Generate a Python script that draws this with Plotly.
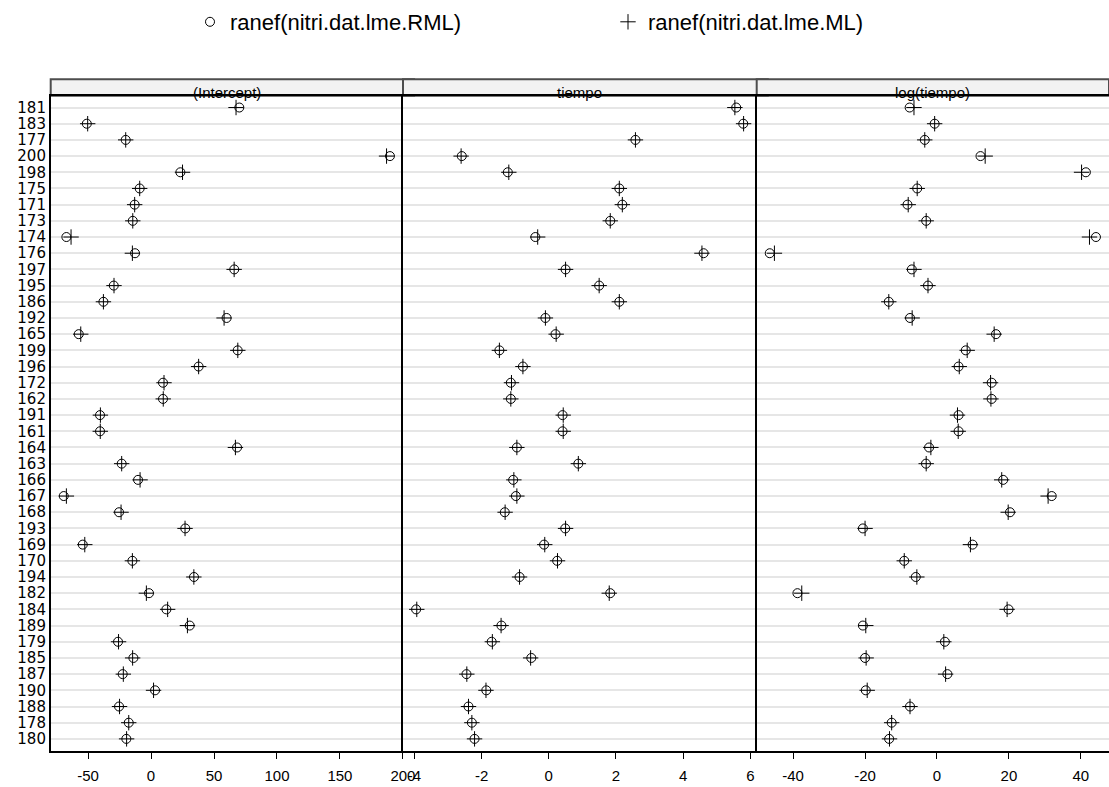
import plotly.graph_objects as go

# Grouping levels, listed top to bottom
groups = ["181", "183", "177", "200", "198", "175", "171", "173", "174", "176",
          "197", "195", "186", "192", "165", "199", "196", "172", "162", "191",
          "161", "164", "163", "166", "167", "168", "193", "169", "170", "194",
          "182", "184", "189", "179", "185", "187", "190", "188", "178", "180"]

# Random effects from the REML fit
intercept_rml = [70.1, -51.0, -20.1, 189.7, 23.3, -9.0, -13.0, -14.5, -67.2, -12.7,
                 66.1, -29.6, -37.8, 60.0, -57.4, 68.8, 37.8, 9.5, 9.5, -40.5,
                 -40.5, 68.3, -23.3, -10.3, -69.3, -25.4, 27.2, -54.2, -14.8, 34.1,
                 -1.6, 12.2, 30.7, -26.2, -14.0, -22.5, 3.2, -25.4, -17.7, -19.6]
tiempo_rml = [5.58, 5.79, 2.58, -2.59, -1.22, 2.10, 2.19, 1.83, -0.40, 4.61,
              0.50, 1.50, 2.10, -0.10, 0.20, -1.47, -0.77, -1.13, -1.13, 0.41,
              0.41, -0.95, 0.88, -1.06, -0.98, -1.31, 0.49, -0.14, 0.25, -0.87,
              1.83, -3.95, -1.41, -1.70, -0.52, -2.45, -1.86, -2.39, -2.29, -2.21]
logt_rml = [-7.6, -0.65, -3.4, 12.1, 41.4, -5.5, -8.2, -3.0, 44.2, -46.5,
            -7.0, -2.5, -13.4, -7.5, 16.4, 8.0, 6.0, 15.2, 15.2, 6.0,
            6.0, -2.2, -3.06, 18.4, 31.9, 20.3, -20.6, 9.9, -9.1, -5.9,
            -38.8, 19.9, -20.6, 2.2, -20.0, 2.9, -19.8, -7.5, -12.6, -13.3]

# Random effects from the ML fit
intercept_ml = [67.5, -50.3, -20.1, 187.0, 25.0, -9.0, -13.0, -14.5, -63.5, -14.8,
                66.0, -29.4, -37.8, 58.0, -55.8, 68.9, 37.8, 10.3, 9.7, -40.2,
                -40.3, 67.0, -23.3, -8.7, -67.2, -23.8, 27.0, -52.6, -14.8, 34.0,
                -3.7, 13.2, 28.9, -25.8, -14.6, -22.0, 2.0, -25.0, -17.7, -19.4]
tiempo_ml = [5.54, 5.80, 2.58, -2.61, -1.19, 2.10, 2.19, 1.83, -0.33, 4.56,
             0.50, 1.50, 2.10, -0.10, 0.22, -1.47, -0.77, -1.11, -1.13, 0.43,
             0.43, -0.95, 0.88, -1.04, -0.95, -1.30, 0.50, -0.12, 0.26, -0.87,
             1.80, -3.93, -1.42, -1.68, -0.54, -2.44, -1.87, -2.39, -2.29, -2.21]
logt_ml = [-6.4, -0.65, -3.4, 13.4, 40.2, -5.5, -8.0, -3.0, 42.4, -45.2,
           -6.4, -2.5, -13.4, -6.9, 15.9, 8.4, 6.2, 14.9, 15.0, 5.7,
           5.9, -1.7, -3.0, 18.0, 30.9, 19.8, -20.0, 9.3, -9.1, -5.6,
           -37.6, 19.5, -19.8, 1.9, -19.7, 2.4, -19.4, -7.5, -12.6, -13.2]

panel_titles = ["(Intercept)", "tiempo", "log(tiempo)"]
panel_ticks = [[-50, 0, 50, 100, 150, 200], [-4, -2, 0, 2, 4, 6], [-40, -20, 0, 20, 40]]
series_names = ["ranef(nitri.dat.lme.RML)", "ranef(nitri.dat.lme.ML)"]

W, H = 1109, 787
FONT = "Liberation Sans, Arial, sans-serif"

# panel geometry (pixels)
panel_px = [(50.7, 403.0), (403.0, 756.7), (756.7, 1109.0)]
plot_top, plot_bottom = 95.7, 750.7
strip_top = 79.3

def px_x(v):
    return v / W

def px_y(v):
    return (H - v) / H

def padded(a, b):
    lo = min(min(a), min(b))
    hi = max(max(a), max(b))
    span = hi - lo
    return [lo - 0.04 * span, hi + 0.04 * span]

rml = [intercept_rml, tiempo_rml, logt_rml]
ml = [intercept_ml, tiempo_ml, logt_ml]

fig = go.Figure()
for i in range(3):
    xa = "x" if i == 0 else f"x{i+1}"
    ya = "y" if i == 0 else f"y{i+1}"
    fig.add_trace(go.Scatter(
        x=rml[i], y=groups, mode="markers", xaxis=xa, yaxis=ya,
        name=series_names[0], showlegend=(i == 0), legendgroup="rml",
        marker=dict(symbol="circle-open", size=9, color="black",
                    line=dict(width=1, color="black"))))
    fig.add_trace(go.Scatter(
        x=ml[i], y=groups, mode="markers", xaxis=xa, yaxis=ya,
        name=series_names[1], showlegend=(i == 0), legendgroup="ml",
        marker=dict(symbol="cross-thin-open", size=11, color="black",
                    line=dict(width=1, color="black"))))

n = len(groups)
yrange = [n - 1 + 0.73, -0.73]
layout = dict(
    width=W, height=H, autosize=False,
    margin=dict(l=0, r=0, t=0, b=0, pad=0, autoexpand=False),
    paper_bgcolor="white", plot_bgcolor="white",
    font=dict(family=FONT, color="black"),
    showlegend=True,
    legend=dict(orientation="h", x=px_x(190), y=px_y(1), xanchor="left", yanchor="top",
                entrywidth=373, entrywidthmode="pixels",
                font=dict(family=FONT, size=22, color="black"),
                bgcolor="rgba(0,0,0,0)"),
)

shapes = []
annotations = []
for i in range(3):
    sx = "" if i == 0 else str(i + 1)
    x0, x1 = panel_px[i]
    layout[f"xaxis{sx}"] = dict(
        domain=[px_x(x0), min(1.0, px_x(x1))],
        range=padded(rml[i], ml[i]),
        anchor=f"y{sx}", automargin=False,
        tickmode="array", tickvals=panel_ticks[i],
        ticktext=[str(t) for t in panel_ticks[i]],
        ticks="outside", ticklen=7, tickwidth=1, tickcolor="black",
        ticklabelstandoff=4,
        tickfont=dict(family=FONT, size=15, color="black"),
        showgrid=False, zeroline=False,
        showline=True, linecolor="black", linewidth=1.5, mirror=True,
    )
    layout[f"yaxis{sx}"] = dict(
        domain=[px_y(plot_bottom), px_y(plot_top)],
        anchor=f"x{sx}", automargin=False,
        type="category", categoryorder="array", categoryarray=groups,
        tickmode="array", tickvals=groups, ticktext=groups,
        range=yrange,
        matches=None if i == 0 else "y",
        showticklabels=(i == 0), ticks="",
        tickfont=dict(family="DejaVu Sans, sans-serif", size=15, color="black"),
        showgrid=True, gridcolor="#e6e6e6", gridwidth=2,
        zeroline=False,
        showline=True, linecolor="black", linewidth=1.5, mirror=False,
    )
    # strip above each panel
    shapes.append(dict(type="rect", xref="paper", yref="paper",
                       x0=px_x(x0), x1=min(1.0, px_x(x1) + 0.01),
                       y0=px_y(plot_top), y1=px_y(strip_top),
                       fillcolor="#f2f2f2", line=dict(color="#4d4d4d", width=2),
                       layer="below"))
    annotations.append(dict(text=panel_titles[i], xref="paper", yref="paper",
                            x=px_x((x0 + min(x1, 1109)) / 2), y=px_y(92),
                            xanchor="center", yanchor="middle", showarrow=False,
                            font=dict(family=FONT, size=15, color="black")))

layout["shapes"] = shapes
layout["annotations"] = annotations
fig.update_layout(**layout)

fig.write_html("out.html", config={"responsive": False})
